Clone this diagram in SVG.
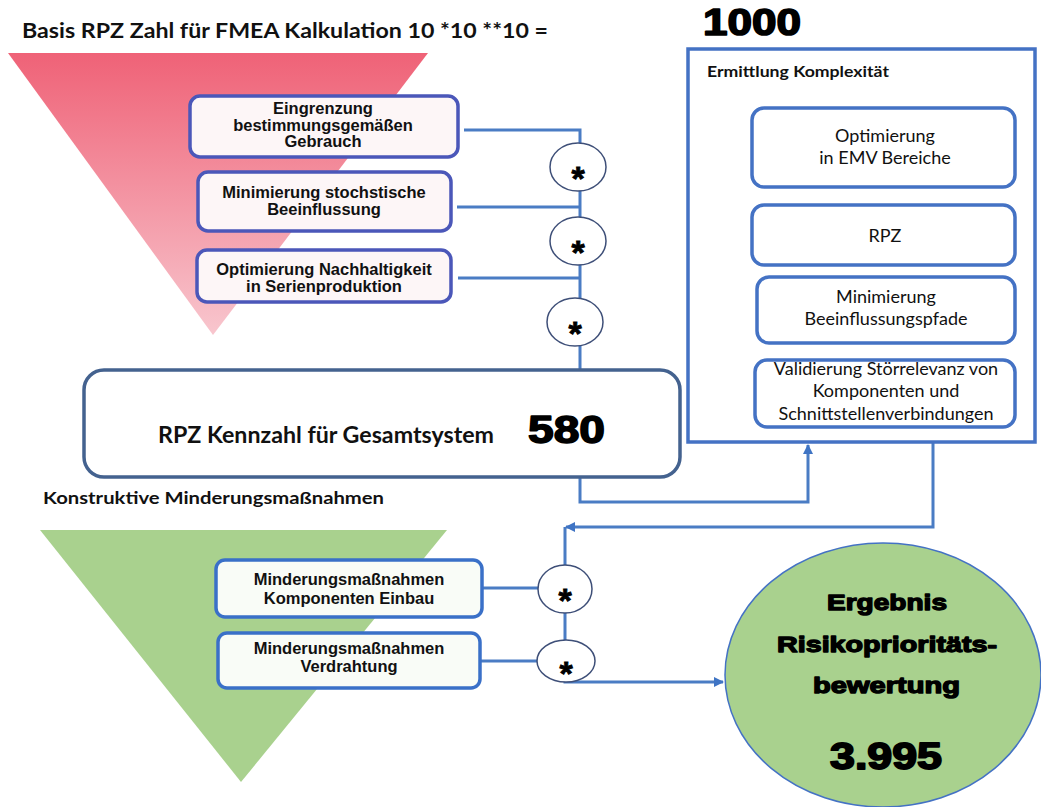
<svg xmlns="http://www.w3.org/2000/svg" width="1041" height="807" viewBox="0 0 1041 807">
  <defs>
    <linearGradient id="redFade" x1="0" y1="0" x2="0" y2="1">
      <stop offset="0" stop-color="#ef6277"/>
      <stop offset="1" stop-color="#f8c6ce"/>
    </linearGradient>
    <marker id="arrow" markerWidth="10" markerHeight="10" refX="9" refY="5" orient="auto" markerUnits="userSpaceOnUse">
      <path d="M0,0 L10,5 L0,10 Z" fill="#3f74c4"/>
    </marker>
    <style>
      .head { font-family: Lato, "Liberation Sans", sans-serif; font-weight: bold; fill: #111; }
      .heavy { font-family: "Liberation Sans", Arial, sans-serif; font-weight: bold; fill: #000; stroke: #000; stroke-linejoin: round; }
      .lbl { font-family: "Liberation Sans", Arial, sans-serif; font-weight: bold; font-size: 16.5px; fill: #111; text-anchor: middle; }
      .inner { font-family: Lato, "Liberation Sans", sans-serif; font-size: 18px; fill: #111; text-anchor: middle; }
      .redbox { fill: #fdf6f7; stroke: #4b57b9; stroke-width: 3.5; }
      .greenbox { fill: #f9fcf7; stroke: #3a70c8; stroke-width: 3.5; }
      .innerbox { fill: #fff; stroke: #4472c4; stroke-width: 3.5; }
      .op { fill: #fff; stroke: #3e4f78; stroke-width: 1.5; }
      .star { font-family: "Liberation Sans", Arial, sans-serif; font-weight: bold; font-size: 34px; fill: #000; stroke: #000; stroke-width: 0.8; text-anchor: middle; }
      .wire { fill: none; stroke: #4a7cc4; stroke-width: 3; }
    </style>
  </defs>

  <rect width="1041" height="807" fill="#fff"/>

  <!-- background funnels -->
  <polygon id="funnel-red" points="8,53 428,53 213,335" fill="url(#redFade)"/>
  <polygon id="funnel-green" points="40,530 447,530 241,782" fill="#a9d18e"/>

  <!-- headings -->
  <text class="head" x="22" y="38" font-size="21" textLength="526" lengthAdjust="spacingAndGlyphs">Basis RPZ Zahl für FMEA Kalkulation 10 *10 **10 =</text>
  <text class="heavy" x="703" y="35" font-size="36" stroke-width="1.6" textLength="98" lengthAdjust="spacingAndGlyphs">1000</text>
  <text class="head" x="43" y="504" font-size="17.5" textLength="341" lengthAdjust="spacingAndGlyphs">Konstruktive Minderungsmaßnahmen</text>

  <!-- connectors -->
  <g id="connectors">
    <path class="wire" d="M464,130 H580 V370"/>
    <path class="wire" d="M457,207 H580"/>
    <path class="wire" d="M458,278 H580"/>
    <path class="wire" d="M580,477 V502 H808 V445" marker-end="url(#arrow)"/>
    <path class="wire" d="M933,442 V527 H566" marker-end="url(#arrow)"/>
    <path class="wire" d="M565,527 V682 H723" marker-end="url(#arrow)"/>
    <path class="wire" d="M482,588 H540"/>
    <path class="wire" d="M480,661 H540"/>
  </g>

  <!-- risk inputs -->
  <g id="node-eingrenzung">
    <rect class="redbox" x="190" y="96" width="268" height="61" rx="10"/>
    <text class="lbl" x="323" y="114">Eingrenzung</text>
    <text class="lbl" x="323" y="130.5">bestimmungsgemäßen</text>
    <text class="lbl" x="323" y="147">Gebrauch</text>
  </g>
  <g id="node-minimierung">
    <rect class="redbox" x="198" y="172" width="253" height="59" rx="10"/>
    <text class="lbl" x="324" y="198">Minimierung stochstische</text>
    <text class="lbl" x="324" y="215">Beeinflussung</text>
  </g>
  <g id="node-optimierung">
    <rect class="redbox" x="197" y="250" width="254" height="52" rx="10"/>
    <text class="lbl" x="324" y="275">Optimierung Nachhaltigkeit</text>
    <text class="lbl" x="324" y="292">in Serienproduktion</text>
  </g>

  <!-- multiplication points -->
  <g id="op-1"><ellipse class="op" cx="578" cy="167" rx="28" ry="24"/><text class="star" x="578" y="190">*</text></g>
  <g id="op-2"><ellipse class="op" cx="578" cy="241" rx="28" ry="24"/><text class="star" x="578" y="264">*</text></g>
  <g id="op-3"><ellipse class="op" cx="575" cy="322" rx="28" ry="24"/><text class="star" x="575" y="345">*</text></g>

  <!-- system total -->
  <g id="node-gesamtsystem">
    <rect x="84" y="370" width="596" height="107" rx="20" fill="#fff" stroke="#44628f" stroke-width="3.5"/>
    <text class="head" x="158" y="443" font-size="22" textLength="336" lengthAdjust="spacingAndGlyphs">RPZ Kennzahl für Gesamtsystem</text>
    <text class="heavy" x="528" y="443" font-size="39" stroke-width="1.6" textLength="77" lengthAdjust="spacingAndGlyphs">580</text>
  </g>

  <!-- complexity panel -->
  <g id="node-komplexitaet">
    <rect x="688" y="49" width="347" height="393" fill="#fff" stroke="#4472c4" stroke-width="3.5"/>
    <text class="head" x="707" y="77" font-size="16" textLength="182" lengthAdjust="spacingAndGlyphs">Ermittlung Komplexität</text>
    <rect class="innerbox" x="752" y="108" width="263" height="79" rx="12"/>
    <text class="inner" x="885" y="142">Optimierung</text>
    <text class="inner" x="885" y="164">in EMV Bereiche</text>
    <rect class="innerbox" x="752" y="205" width="263" height="60" rx="12"/>
    <text class="inner" x="885" y="242">RPZ</text>
    <rect class="innerbox" x="757" y="277" width="258" height="66" rx="12"/>
    <text class="inner" x="886" y="303">Minimierung</text>
    <text class="inner" x="886" y="325">Beeinflussungspfade</text>
    <rect class="innerbox" x="755" y="360" width="260" height="67" rx="12"/>
    <text class="inner" x="886" y="375">Validierung Störrelevanz von</text>
    <text class="inner" x="886" y="397">Komponenten und</text>
    <text class="inner" x="886" y="420">Schnittstellenverbindungen</text>
  </g>

  <!-- mitigation inputs -->
  <g id="node-komponenten">
    <rect class="greenbox" x="216" y="560" width="266" height="57" rx="9"/>
    <text class="lbl" x="349" y="585">Minderungsmaßnahmen</text>
    <text class="lbl" x="349" y="604">Komponenten Einbau</text>
  </g>
  <g id="node-verdrahtung">
    <rect class="greenbox" x="218" y="633" width="262" height="55" rx="9"/>
    <text class="lbl" x="349" y="654">Minderungsmaßnahmen</text>
    <text class="lbl" x="349" y="672">Verdrahtung</text>
  </g>

  <g id="op-4"><ellipse class="op" cx="565" cy="589" rx="27" ry="24"/><text class="star" x="565" y="612">*</text></g>
  <g id="op-5"><ellipse class="op" cx="566" cy="661" rx="29" ry="21"/><text class="star" x="566" y="685">*</text></g>

  <!-- result -->
  <g id="node-ergebnis">
    <ellipse cx="883" cy="675" rx="158" ry="132" fill="#a9d18e" stroke="#4472c4" stroke-width="1.5"/>
    <text class="heavy" x="827" y="610" font-size="22" stroke-width="1.3" textLength="120" lengthAdjust="spacingAndGlyphs">Ergebnis</text>
    <text class="heavy" x="777" y="652" font-size="22" stroke-width="1.3" textLength="220" lengthAdjust="spacingAndGlyphs">Risikoprioritäts-</text>
    <text class="heavy" x="813" y="693" font-size="22" stroke-width="1.3" textLength="147" lengthAdjust="spacingAndGlyphs">bewertung</text>
    <text class="heavy" x="830" y="769" font-size="36" stroke-width="1.8" textLength="112" lengthAdjust="spacingAndGlyphs">3.995</text>
  </g>
</svg>
